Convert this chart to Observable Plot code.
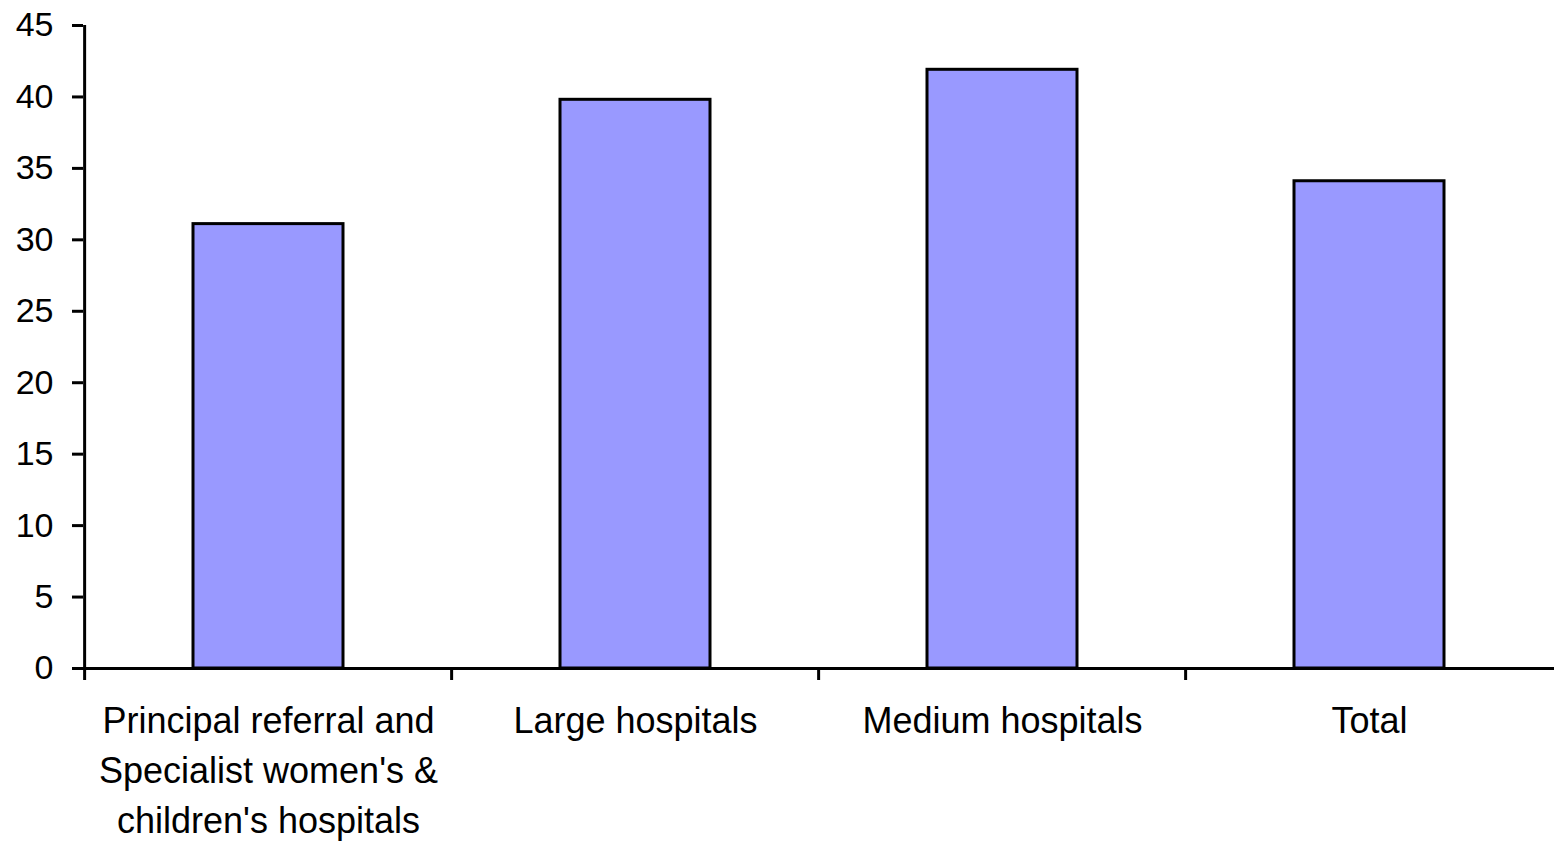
<!DOCTYPE html>
<html>
<head>
<meta charset="utf-8">
<script src="https://cdn.jsdelivr.net/npm/d3@7"></script>
<script src="https://cdn.jsdelivr.net/npm/@observablehq/plot@0.6"></script>
<style>
  html, body { margin: 0; padding: 0; background: #fff; }
  #chart { width: 1554px; height: 843px; overflow: hidden; }
</style>
</head>
<body>
<div id="chart"></div>
<script>
const categories = ["Principal referral", "Large hospitals", "Medium hospitals", "Total"];
const tickLabels = ["Principal referral and\nSpecialist women's &\nchildren's hospitals", "Large hospitals", "Medium hospitals", "Total"];
const values = [31.1, 39.8, 41.9, 34.1];
const yTicks = [0, 5, 10, 15, 20, 25, 30, 35, 40, 45];

const data = categories.map((c, i) => ({category: c, value: values[i]}));

const W = 1554, H = 843, ML = 83, MR = 0, MT = 25, MB = 175;
const step = (W - ML - MR) / categories.length;

const chart = Plot.plot({
  width: W,
  height: H,
  marginLeft: ML,
  marginRight: MR,
  marginTop: MT,
  marginBottom: MB,
  style: {fontFamily: "'Liberation Sans', Arial, sans-serif", color: "#000", background: "#fff"},
  x: {domain: categories, paddingInner: 0.59, paddingOuter: 0.295, label: null},
  y: {domain: [0, 45], label: null},
  marks: [
    Plot.barY(data, {x: "category", y: "value", fill: "#9999ff", stroke: "#000", strokeWidth: 3}),
    Plot.ruleY([0], {stroke: "#000", strokeWidth: 3}),
    Plot.ruleX([categories[0]], {x: d => d, y1: 0, y2: 45, dx: -step / 2, stroke: "#000", strokeWidth: 3}),
    Plot.ruleX(categories, {x: d => d, y1: 0, y2: 0, dx: -step / 2, insetBottom: -12, stroke: "#000", strokeWidth: 3}),
    Plot.axisY({ticks: yTicks, tickSize: 11, tickPadding: 19, fontSize: 34, strokeWidth: 3, label: null, tickFormat: d => String(d)}),
    Plot.axisX({tickSize: 0, tickPadding: 29, fontSize: 36, lineHeight: 1.39, label: null,
      tickFormat: d => tickLabels[categories.indexOf(d)]})
  ]
});
document.getElementById("chart").appendChild(chart);
</script>
</body>
</html>
